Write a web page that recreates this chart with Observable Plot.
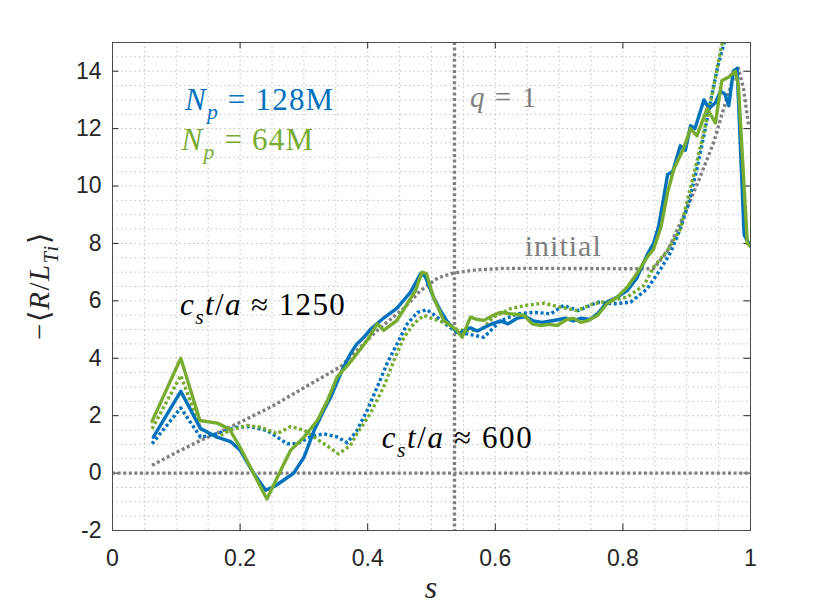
<!DOCTYPE html>
<html><head><meta charset="utf-8">
<script src="https://cdn.jsdelivr.net/npm/d3@7"></script>
<script src="https://cdn.jsdelivr.net/npm/@observablehq/plot@0.6"></script>
<style>body{margin:0;background:#fff}</style>
</head><body><div id="chart"></div>
<script>
// ---- data: [s, -<R/L_Ti>] ----
const blue1250 = [[0.064,1.25],[0.107,2.85],[0.138,1.55],[0.164,1.25],[0.185,1.1],[0.2,0.8],[0.221,0.0],[0.24,-0.6],[0.255,-0.45],[0.268,-0.25],[0.284,0.0],[0.3,0.55],[0.316,1.48],[0.331,2.18],[0.342,2.64],[0.362,3.69],[0.373,4.16],[0.383,4.5],[0.394,4.73],[0.404,5.0],[0.425,5.4],[0.446,5.75],[0.467,6.3],[0.483,6.95],[0.49,6.85],[0.503,6.13],[0.514,5.66],[0.524,5.3],[0.537,4.97],[0.545,4.85],[0.553,5.0],[0.561,5.06],[0.572,4.95],[0.582,5.06],[0.595,5.2],[0.608,5.3],[0.62,5.2],[0.635,5.4],[0.648,5.45],[0.66,5.3],[0.673,5.25],[0.687,5.3],[0.7,5.35],[0.71,5.4],[0.722,5.3],[0.735,5.4],[0.748,5.35],[0.76,5.55],[0.775,5.95],[0.791,6.13],[0.807,6.36],[0.822,6.8],[0.838,7.6],[0.848,8.0],[0.856,8.6],[0.864,9.6],[0.87,10.4],[0.878,10.5],[0.89,11.4],[0.898,11.25],[0.906,12.1],[0.913,12.0],[0.927,13.0],[0.935,12.7],[0.945,12.9],[0.953,13.3],[0.96,13.2],[0.966,12.8],[0.973,14.0],[0.979,14.1],[0.99,8.3],[1.0,7.9]];
const green1250 = [[0.062,1.8],[0.107,4.0],[0.137,1.83],[0.164,1.74],[0.183,1.54],[0.2,0.9],[0.216,0.2],[0.242,-0.9],[0.266,0.2],[0.279,0.79],[0.3,1.25],[0.321,1.83],[0.337,2.53],[0.352,3.34],[0.373,3.87],[0.399,4.62],[0.415,5.2],[0.425,4.97],[0.446,5.32],[0.462,5.9],[0.475,6.36],[0.485,7.0],[0.492,6.95],[0.503,6.13],[0.519,5.32],[0.54,4.97],[0.548,4.73],[0.561,5.43],[0.572,5.35],[0.582,5.32],[0.597,5.5],[0.608,5.6],[0.624,5.55],[0.645,5.5],[0.658,5.2],[0.671,5.14],[0.684,5.18],[0.697,5.14],[0.712,5.35],[0.723,5.39],[0.734,5.25],[0.744,5.3],[0.76,5.49],[0.775,5.9],[0.791,6.13],[0.807,6.48],[0.822,6.95],[0.838,7.52],[0.848,7.8],[0.86,8.6],[0.87,9.77],[0.88,10.6],[0.895,11.3],[0.906,12.0],[0.916,11.75],[0.932,12.7],[0.945,12.2],[0.955,13.67],[0.966,13.8],[0.976,14.0],[0.981,13.5],[0.995,8.0],[1.0,7.9]];
const blue600 = [[0.062,1.02],[0.107,2.27],[0.138,1.25],[0.164,1.37],[0.195,1.6],[0.216,1.62],[0.2425,1.48],[0.274,1.02],[0.29,1.03],[0.31,1.26],[0.331,1.37],[0.352,1.26],[0.368,1.06],[0.383,1.48],[0.399,2.18],[0.415,3.0],[0.43,3.8],[0.446,4.5],[0.462,5.2],[0.478,5.6],[0.493,5.69],[0.509,5.43],[0.525,5.14],[0.54,4.9],[0.556,4.85],[0.582,4.73],[0.608,5.3],[0.635,5.55],[0.66,5.6],[0.687,5.55],[0.707,5.84],[0.73,5.66],[0.76,5.95],[0.786,5.9],[0.812,5.95],[0.838,6.42],[0.859,7.1],[0.875,7.7],[0.89,8.5],[0.903,9.4],[0.916,10.6],[0.927,11.76],[0.937,12.9],[0.948,14.1],[0.96,15.1]];
const green600 = [[0.062,1.54],[0.107,3.4],[0.138,1.54],[0.164,1.25],[0.185,1.5],[0.211,1.66],[0.232,1.6],[0.258,1.37],[0.279,1.62],[0.3,1.5],[0.331,1.03],[0.354,0.67],[0.373,0.96],[0.383,1.37],[0.404,2.07],[0.425,3.0],[0.441,3.92],[0.457,4.73],[0.472,5.2],[0.488,5.49],[0.503,5.37],[0.525,5.2],[0.54,5.0],[0.55,4.97],[0.577,4.97],[0.597,5.43],[0.624,5.73],[0.65,5.85],[0.676,5.92],[0.702,5.78],[0.728,5.66],[0.754,5.9],[0.78,6.0],[0.807,6.13],[0.833,6.54],[0.848,7.17],[0.87,7.76],[0.89,8.5],[0.91,10.3],[0.925,11.7],[0.94,13.2],[0.953,14.7],[0.958,15.2]];
const initial = [[0.062,0.27],[0.1,0.72],[0.138,1.14],[0.17,1.45],[0.2,1.77],[0.248,2.3],[0.279,2.7],[0.357,3.7],[0.415,4.97],[0.457,5.75],[0.483,6.36],[0.51,6.8],[0.535,6.97],[0.57,7.08],[0.613,7.13],[0.7,7.13],[0.8,7.12],[0.848,7.12],[0.869,7.7],[0.9,9.2],[0.92,10.26],[0.942,11.5],[0.958,12.7],[0.973,13.75],[0.981,14.1],[0.989,13.4],[0.997,12.1]];
const qOneS = 0.536;
const xTicks = [0, 0.2, 0.4, 0.6, 0.8, 1];
const yTicks = [-2, 0, 2, 4, 6, 8, 10, 12, 14];
const xMinor = d3.range(0, 21).map(i => i / 20);
const yMinor = d3.range(0, 35).map(i => -2 + i / 2);

const BLUE = "#0072BD", GREEN = "#77AC30", GRAY = "#808080";
const W = 830, H = 610, ML = 112, MR = 80, MT = 42, MB = 80;
const xDom = [0, 1], yDom = [-2, 15];
const tickPx = 6.5;
const tx = tickPx / (W - ML - MR) * (xDom[1] - xDom[0]);
const ty = tickPx / (H - MT - MB) * (yDom[1] - yDom[0]);

const dot = {strokeDasharray: "3,2.6", strokeLinecap: "butt"};
const grid = {stroke: "#b8b8b8", strokeOpacity: 1, strokeDasharray: "1.3,3.2", strokeWidth: 1};
const line = (data, stroke, dashed) => Plot.line(data, {x: d => d[0], y: d => d[1], stroke, strokeWidth: dashed ? 3.4 : 3.4, clip: true, ...(dashed ? dot : {})});

const plot = Plot.plot({
  width: W, height: H, marginLeft: ML, marginRight: MR, marginTop: MT, marginBottom: MB,
  x: {domain: xDom}, y: {domain: yDom},
  style: {fontFamily: "'Liberation Sans', Arial, sans-serif", fontSize: "23px", color: "#262626", background: "#fff"},
  marks: [
    Plot.gridX(xMinor, grid),
    Plot.gridY(yMinor, grid),
    Plot.axisX(xTicks, {tickSize: 0, tickPadding: 19, tickFormat: d => String(d), label: null, fontSize: 23}),
    Plot.axisY(yTicks, {tickSize: 0, tickPadding: 11, tickFormat: d => String(d), label: null, fontSize: 23}),
    Plot.ruleY(yTicks, {x1: xDom[0], x2: xDom[0] + tx, stroke: "#262626"}),
    Plot.ruleY(yTicks, {x1: xDom[1] - tx, x2: xDom[1], stroke: "#262626"}),
    Plot.ruleX(xTicks, {y1: yDom[0], y2: yDom[0] + ty, stroke: "#262626"}),
    Plot.ruleX(xTicks, {y1: yDom[1] - ty, y2: yDom[1], stroke: "#262626"}),
    Plot.ruleY([0], {stroke: GRAY, strokeWidth: 3.4, ...dot}),
    Plot.ruleX([qOneS], {stroke: GRAY, strokeWidth: 3.4, ...dot}),
    line(initial, GRAY, true),
    line(blue600, BLUE, true),
    line(green600, GREEN, true),
    line(blue1250, BLUE, false),
    line(green1250, GREEN, false),
    Plot.frame({stroke: "#4a4a4a", strokeWidth: 1})
  ]
});
document.getElementById("chart").append(plot);

// ---- annotations (rich text with sub/italic) placed through the plot scales ----
const sx = plot.scale("x"), sy = plot.scale("y");
const svg = d3.select(plot);
function rich(px, py, parts, {size, fill = "#000", ls = 0, rotate = 0, anchor = "start"}) {
  const t = svg.append("text").attr("x", px).attr("y", py)
    .style("fill", fill).style("font-size", size + "px").style("text-anchor", anchor)
    .style("font-family", '"Liberation Serif","Times New Roman",Times,serif');
  if (ls) t.style("letter-spacing", ls + "px");
  if (rotate) t.attr("transform", `rotate(${rotate},${px},${py})`);
  let shift = 0;
  for (const p of parts) {
    const ts = t.append("tspan").text(p.t);
    if (p.i) ts.style("font-style", "italic");
    const target = p.sub ? size * 0.3 : 0;
    ts.style("font-size", (p.sub ? size * 0.7 : size) + "px");
    if (target !== shift) { ts.attr("dy", target - shift); shift = target; }
  }
  return t;
}
const sp = "\u2005";
const labels = [
  {s: 0.1144, r: 12.63, size: 31, fill: BLUE, ls: 1.2, parts: [{t: "N", i: 1}, {t: "p", i: 1, sub: 1}, {t: sp + "=" + sp + "128M"}]},
  {s: 0.109, r: 11.24, size: 31, fill: GREEN, ls: 1.2, parts: [{t: "N", i: 1}, {t: "p", i: 1, sub: 1}, {t: sp + "=" + sp + "64M"}]},
  {s: 0.561, r: 12.75, size: 29, fill: GRAY, ls: 1.6, parts: [{t: "q", i: 1}, {t: sp + "=" + sp + "1"}]},
  {s: 0.647, r: 7.55, size: 30, fill: GRAY, ls: 1.0, parts: [{t: "initial"}]},
  {s: 0.1066, r: 5.49, size: 31, fill: "#000", ls: 1.4, parts: [{t: "c", i: 1}, {t: "s", i: 1, sub: 1}, {t: "t", i: 1}, {t: "/"}, {t: "a", i: 1}, {t: sp + "≈" + sp + "1250"}]},
  {s: 0.4227, r: 0.85, size: 31, fill: "#000", ls: 1.6, parts: [{t: "c", i: 1}, {t: "s", i: 1, sub: 1}, {t: "t", i: 1}, {t: "/"}, {t: "a", i: 1}, {t: sp + "≈" + sp + "600"}]}
];
for (const l of labels) rich(sx.apply(l.s), sy.apply(l.r), l.parts, l);

// axis titles
const yMid = (sy.apply(yDom[0]) + sy.apply(yDom[1])) / 2;
rich(sx.apply(xDom[0]) - 63, yMid, [{t: "−⟨"}, {t: "R", i: 1}, {t: "/"}, {t: "L", i: 1}, {t: "Ti", i: 1, sub: 1}, {t: "⟩"}], {size: 29, fill: "#262626", rotate: -90, anchor: "middle", ls: 1.5});
rich((sx.apply(xDom[0]) + sx.apply(xDom[1])) / 2, H - 12, [{t: "s", i: 1}], {size: 32, fill: "#262626", anchor: "middle"});
</script>
</body></html>
